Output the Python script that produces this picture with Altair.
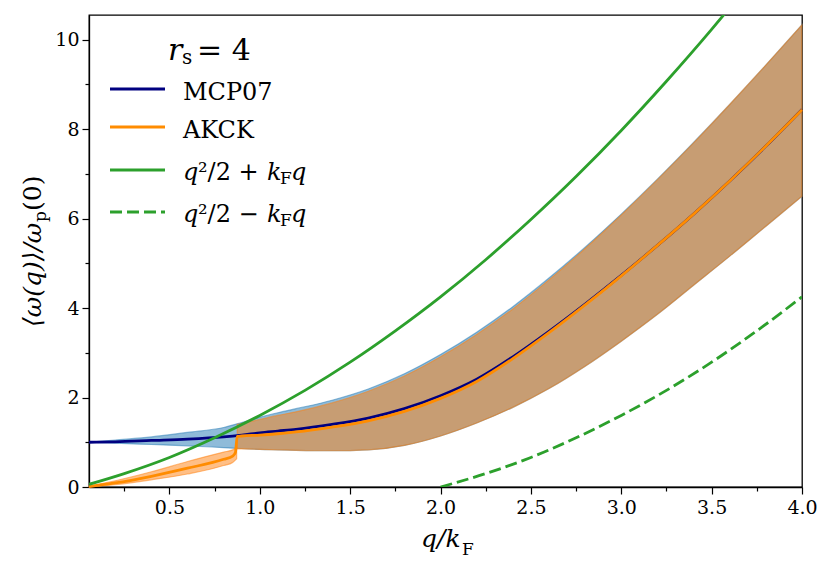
import altair as alt
import pandas as pd

# ---------------- data ----------------
# MCP07 mean frequency and its spread band
q_mcp = [0.055, 0.2, 0.4, 0.6, 0.8, 0.9, 1.0, 1.1, 1.2, 1.4, 1.6, 1.8, 2.0, 2.2,
         2.4, 2.6, 2.8, 3.0, 3.2, 3.4, 3.6, 3.8, 4.0]
w_mcp = [1.00, 1.01, 1.04, 1.07, 1.12, 1.16, 1.21, 1.25, 1.29, 1.40, 1.54, 1.75,
         2.04, 2.41, 2.91, 3.48, 4.09, 4.73, 5.40, 6.10, 6.84, 7.62, 8.44]
mcp_hi = [1.00, 1.05, 1.12, 1.22, 1.33, 1.44, 1.56, 1.66, 1.75, 1.94, 2.19, 2.53,
          2.96, 3.46, 4.03, 4.67, 5.36, 6.10, 6.88, 7.70, 8.55, 9.43, 10.33]
mcp_lo = [1.00, 0.98, 0.95, 0.92, 0.88, 0.86, 0.84, 0.83, 0.82, 0.81, 0.83, 0.93,
          1.14, 1.43, 1.78, 2.20, 2.70, 3.26, 3.86, 4.51, 5.16, 5.83, 6.50]

# AKCK mean frequency
q_akck = [0.055, 0.2, 0.4, 0.6, 0.8, 0.85, 0.865, 0.875, 0.9, 1.0, 1.1, 1.2, 1.4,
          1.6, 1.8, 2.0, 2.2, 2.4, 2.6, 2.8, 3.0, 3.2, 3.4, 3.6, 3.8, 4.0]
w_akck = [0.01, 0.09, 0.24, 0.42, 0.62, 0.69, 0.77, 1.13, 1.14, 1.16, 1.19, 1.23,
          1.34, 1.48, 1.69, 1.98, 2.36, 2.87, 3.45, 4.07, 4.72, 5.40, 6.10, 6.84,
          7.62, 8.43]
# AKCK spread band, low-q branch
q_ak1 = [0.055, 0.2, 0.4, 0.6, 0.8, 0.85, 0.872]
ak1_lo = [0.00, 0.05, 0.16, 0.29, 0.48, 0.55, 0.63]
ak1_hi = [0.02, 0.14, 0.34, 0.57, 0.78, 0.83, 0.88]
# AKCK spread band, high-q branch
q_ak2 = [0.875, 0.9, 1.0, 1.1, 1.2, 1.4, 1.6, 1.8, 2.0, 2.2, 2.4, 2.6, 2.8, 3.0,
         3.2, 3.4, 3.6, 3.8, 4.0]
ak2_lo = [0.85, 0.85, 0.84, 0.83, 0.82, 0.81, 0.83, 0.93, 1.14, 1.43, 1.78, 2.20,
          2.70, 3.26, 3.86, 4.51, 5.16, 5.83, 6.50]
ak2_hi = [1.40, 1.42, 1.51, 1.60, 1.68, 1.88, 2.14, 2.48, 2.91, 3.41, 3.98, 4.63,
          5.33, 6.08, 6.87, 7.69, 8.55, 9.43, 10.33]

# particle-hole continuum edges
q_plus = [0.055, 0.25, 0.5, 0.75, 1.0, 1.25, 1.5, 1.75, 2.0, 2.25, 2.5, 2.75, 3.0,
          3.25, 3.5, 3.75, 4.0]
w_plus = [0.06, 0.30, 0.66, 1.10, 1.60, 2.16, 2.79, 3.49, 4.25, 5.08, 5.98, 6.94,
          7.97, 9.07, 10.23, 11.46, 12.76]
q_minus = [2.0, 2.25, 2.5, 2.75, 3.0, 3.25, 3.5, 3.75, 4.0]
w_minus = [0.00, 0.30, 0.66, 1.10, 1.60, 2.16, 2.79, 3.49, 4.25]

x_ticks = [0.25, 0.5, 0.75, 1.0, 1.25, 1.5, 1.75, 2.0, 2.25, 2.5, 2.75, 3.0,
           3.25, 3.5, 3.75, 4.0]
y_ticks = [0, 1, 2, 3, 4, 5, 6, 7, 8, 9, 10]

# ---------------- styling ----------------
FONT = "DejaVu Serif"
C_BLUE = "#1f77b4"
C_ORANGE_BAND = "#ff7f0e"
C_NAVY = "#000080"
C_ORANGE = "#ff8c00"
C_GREEN = "#2ca02c"
LW = 2.8

xaxis = alt.Axis(
    values=x_ticks, title=None, grid=False,
    labelExpr="datum.value % 0.5 === 0 ? format(datum.value, '.1f') : ''",
    tickSize={"condition": {"test": "datum.value % 0.5 === 0", "value": 7}, "value": 4},
    labelFont=FONT, labelFontSize=19, labelColor="black", labelPadding=4,
    labelOverlap=False, labelFlush=False,
    domainColor="black", domainWidth=1.3, tickColor="black", tickWidth=1.2,
)
yaxis = alt.Axis(
    values=y_ticks, title=None, grid=False,
    labelExpr="datum.value % 2 === 0 ? datum.label : ''",
    tickSize={"condition": {"test": "datum.value % 2 === 0", "value": 7}, "value": 4},
    labelFont=FONT, labelFontSize=19, labelColor="black", labelPadding=3,
    labelOverlap=False, labelFlush=False,
    domainColor="black", domainWidth=1.3, tickColor="black", tickWidth=1.2,
)
X = alt.X("q:Q", scale=alt.Scale(domain=[0.055, 4.0], nice=False, zero=False), axis=xaxis)
Y = alt.Y("w:Q", scale=alt.Scale(domain=[0, 10.55], nice=False, zero=False), axis=yaxis)
YLO = alt.Y("lo:Q", scale=alt.Scale(domain=[0, 10.55], nice=False, zero=False), axis=yaxis)

df_mcp = pd.DataFrame({"q": q_mcp, "w": w_mcp, "lo": mcp_lo, "hi": mcp_hi})
df_ak = pd.DataFrame({"q": q_akck, "w": w_akck})
df_ak1 = pd.DataFrame({"q": q_ak1, "lo": ak1_lo, "hi": ak1_hi})
df_ak2 = pd.DataFrame({"q": q_ak2, "lo": ak2_lo, "hi": ak2_hi})
df_plus = pd.DataFrame({"q": q_plus, "w": w_plus})
df_minus = pd.DataFrame({"q": q_minus, "w": w_minus})


def band(df, color):
    return alt.Chart(df).mark_area(
        color=color, fillOpacity=0.5, stroke=color, strokeOpacity=0.5,
        strokeWidth=1.2, interpolate="monotone"
    ).encode(x=X, y=YLO, y2=alt.Y2("hi:Q"))


def line(df, color, dash=None, clip=False):
    kw = dict(color=color, strokeWidth=LW, interpolate="monotone", clip=clip)
    if dash:
        kw["strokeDash"] = dash
    return alt.Chart(df).mark_line(**kw).encode(x=X, y=Y)


_one = pd.DataFrame({"a": [0]})


def txt(s, x, y, size, italic=False, angle=0):
    kw = dict(text=s, font=FONT, fontSize=size, color="black", align="left",
              baseline="alphabetic")
    if italic:
        kw["fontStyle"] = "italic"
    if angle:
        kw["angle"] = angle
    return alt.Chart(_one).mark_text(**kw).encode(x=alt.value(x), y=alt.value(y))


def handle(y, color, dash=None):
    kw = dict(color=color, strokeWidth=LW)
    if dash:
        kw["strokeDash"] = dash
    return alt.Chart(_one).mark_rule(**kw).encode(
        x=alt.value(21), x2=alt.value(76), y=alt.value(y))


layers = [
    band(df_mcp, C_BLUE),
    band(df_ak1, C_ORANGE_BAND),
    band(df_ak2, C_ORANGE_BAND),
    line(df_mcp, C_NAVY),
    line(df_ak, C_ORANGE),
    line(df_plus, C_GREEN, clip=True),
    line(df_minus, C_GREEN, dash=[12, 5], clip=True),
    # legend
    txt("r", 79, 45, 30, italic=True),
    txt("s", 93, 49, 20),
    txt("= 4", 108, 45, 30),
    handle(74, C_NAVY),
    txt("MCP07", 94, 85, 24),
    handle(112, C_ORANGE),
    txt("AKCK", 94, 123, 24),
    handle(155, C_GREEN),
    txt("q", 94, 165, 24, italic=True),
    txt("²/2 + ", 109, 165, 24),
    txt("k", 178, 165, 24, italic=True),
    txt("F", 191, 169, 17),
    txt("q", 202, 165, 24, italic=True),
    handle(197, C_GREEN, dash=[12, 5]),
    txt("q", 94, 207, 24, italic=True),
    txt("²/2 − ", 109, 207, 24),
    txt("k", 178, 207, 24, italic=True),
    txt("F", 191, 211, 17),
    txt("q", 202, 207, 24, italic=True),
    # x-axis title
    txt("q/k", 332, 532, 25, italic=True),
    txt("F", 373, 540, 17),
    # y-axis title
    txt("⟨ω(q)⟩/ω", -48, 312, 25, italic=True, angle=270),
    txt("p", -43, 207, 17, angle=270),
    txt("(0)", -48, 196, 25, angle=270),
]

chart = alt.layer(*layers).properties(
    width=713, height=472,
    autosize=alt.AutoSizeParams(type="none"),
    padding={"left": 81, "top": 7, "right": 21, "bottom": 78},
    background="white",
).configure_view(stroke="black", strokeWidth=1.3)

chart.save("out.html", embed_options={"renderer": "svg", "actions": False})
